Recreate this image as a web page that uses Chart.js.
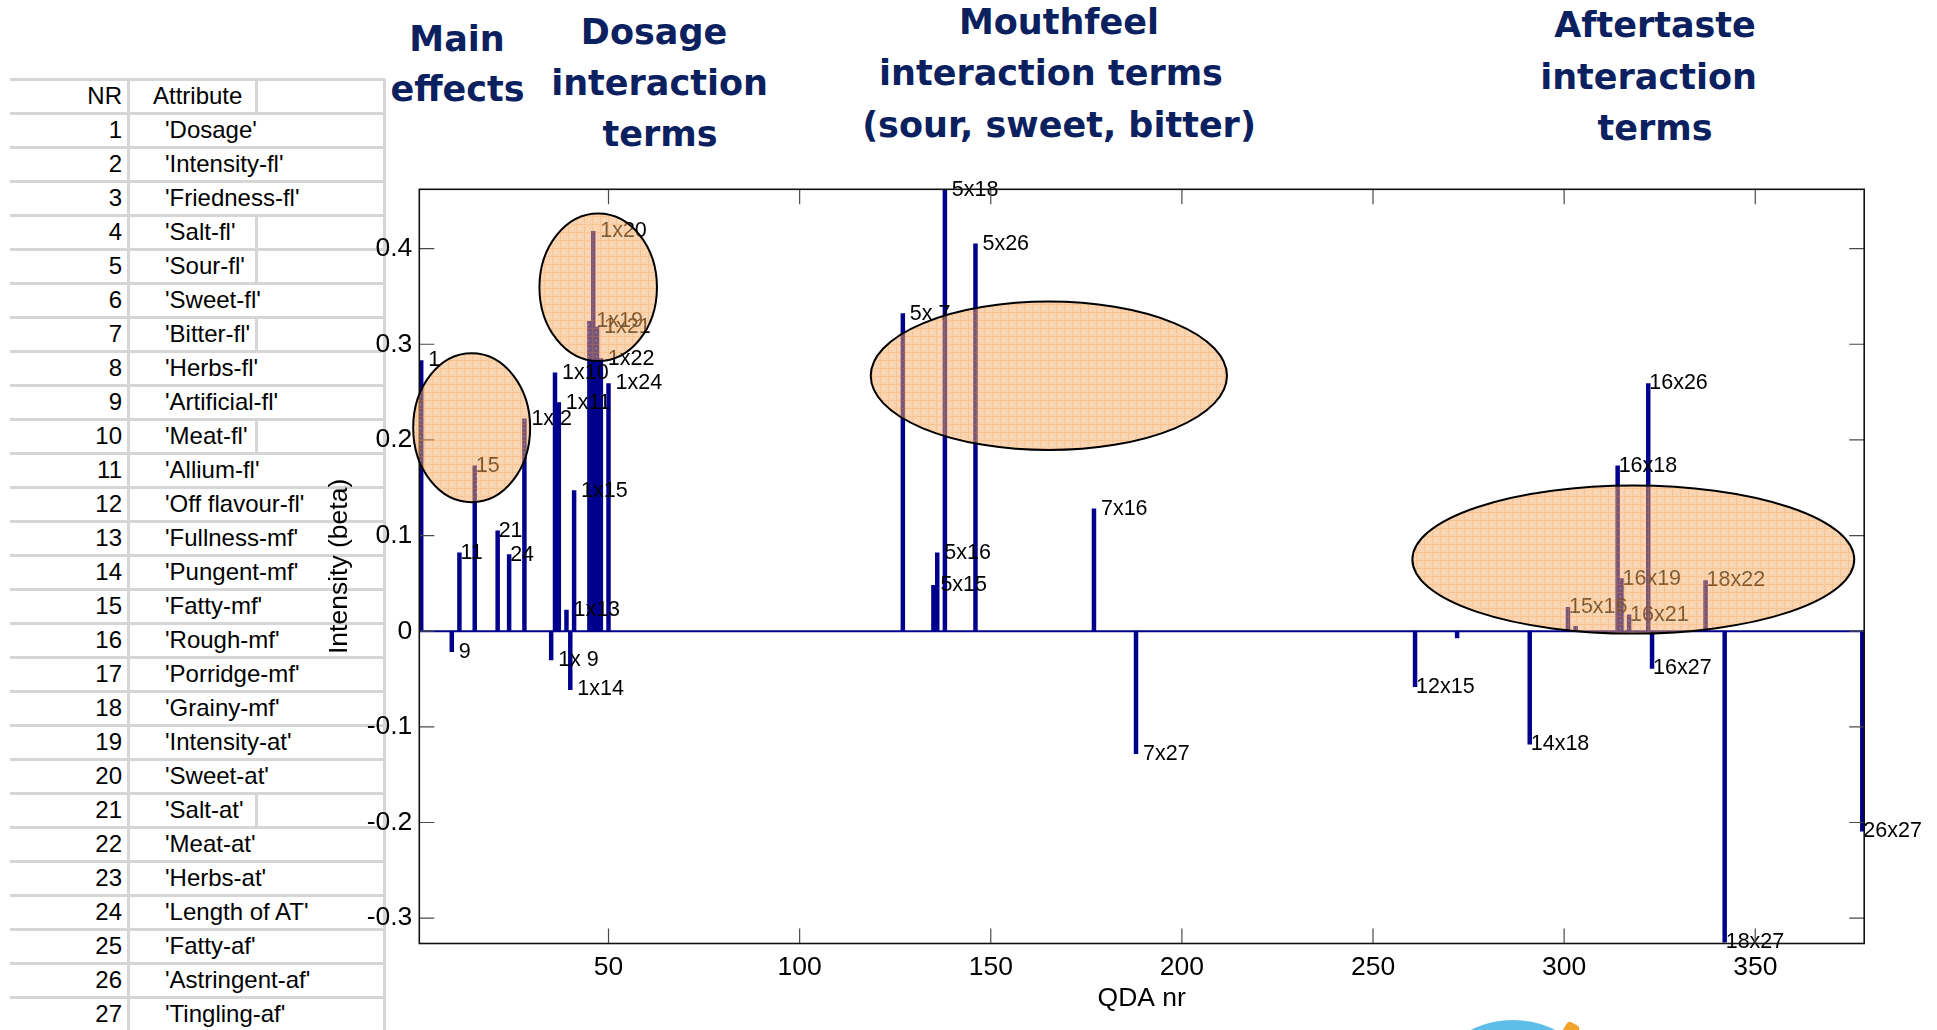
<!DOCTYPE html>
<html>
<head>
<meta charset="utf-8">
<script src="https://cdn.jsdelivr.net/npm/chart.js@4.4.1/dist/chart.umd.min.js"></script>
<style>
  html, body { margin: 0; padding: 0; background: #fff; width: 1937px; height: 1030px; overflow: hidden; }
  #stage { position: relative; width: 1937px; height: 1030px; overflow: hidden; }
  #qda { position: absolute; left: 0; top: 0; }
  .hline { position: absolute; height: 3px; background: #d6d6d6; }
  .vline { position: absolute; width: 3px; background: #d6d6d6; }
  .cell { position: absolute; height: 34px; line-height: 34px; font: 24px "Liberation Sans", Arial, sans-serif; color: #000; white-space: pre; }
  .ttl { position: absolute; font: bold 35px "DejaVu Sans", Verdana, sans-serif; color: #0b205f; white-space: pre; transform: translateX(-50%); line-height: 35px; }
  .logo-blue { position: absolute; left: 1418px; top: 1020px; width: 190px; height: 190px; border-radius: 50%; background: #5dbfe9; }
  .logo-orange { position: absolute; left: 1564px; top: 1023px; width: 14px; height: 14px; border-radius: 4px; background: #f3a32a; transform: rotate(30deg); }
</style>
</head>
<body>
<div id="stage">
  <div id="table"></div>
  <div id="titles"></div>
  <canvas id="qda" width="1937" height="1030"></canvas>
  <div class="logo-blue"></div>
  <div class="logo-orange"></div>
</div>
<script>
// ---- attribute list (main-effect numbering) ----
const attributeNames = [
  "'Dosage'", "'Intensity-fl'", "'Friedness-fl'", "'Salt-fl'", "'Sour-fl'",
  "'Sweet-fl'", "'Bitter-fl'", "'Herbs-fl'", "'Artificial-fl'", "'Meat-fl'",
  "'Allium-fl'", "'Off flavour-fl'", "'Fullness-mf'", "'Pungent-mf'", "'Fatty-mf'",
  "'Rough-mf'", "'Porridge-mf'", "'Grainy-mf'", "'Intensity-at'", "'Sweet-at'",
  "'Salt-at'", "'Meat-at'", "'Herbs-at'", "'Length of AT'", "'Fatty-af'",
  "'Astringent-af'", "'Tingling-af'"
];
// rows whose text stays inside the first attribute cell
const shortCellRows = [4, 5, 7, 10, 21];

// ---- regression coefficients (non-zero terms only) ----
const qdaNr = [1, 9, 11, 15, 21, 24, 28, 35, 36, 37, 39, 40, 41, 45, 46, 47, 48, 50,
               127, 135, 136, 138, 146, 177, 188,
               261, 272, 291, 301, 303, 314, 315, 317, 322, 323, 337, 342, 378];
const beta = [0.283, -0.0215, 0.082, 0.173, 0.105, 0.080, 0.222, -0.030, 0.270, 0.239,
              0.022, -0.061, 0.147, 0.324, 0.418, 0.318, 0.285, 0.259,
              0.332, 0.048, 0.082, 0.461, 0.405, 0.128, -0.128,
              -0.058, -0.007, -0.118, 0.025, 0.005, 0.173, 0.055, 0.017, 0.259, -0.039,
              0.053, -0.325, -0.209];
const termLabels = [' 1', ' 9', '11', '15', '21', '24', ' 1x 2', ' 1x 9', ' 1x10', ' 1x11',
                    ' 1x13', ' 1x14', ' 1x15', ' 1x19', ' 1x20', ' 1x21', ' 1x22', ' 1x24',
                    ' 5x 7', ' 5x15', ' 5x16', ' 5x18', ' 5x26', ' 7x16', ' 7x27',
                    '12x15', '', '14x18', '15x16', '', '16x18', '16x19', '16x21', '16x26', '16x27',
                    '18x22', '18x27', '26x27'];

// ---- axis settings ----
const xTickStep = 50;
const yTickStep = 0.1;
const xRange = [0.5, 378.5];
const yRange = [-0.3265, 0.462];

// ---- group headings ----
const groupTitles = [
  { lines: ['Main', 'effects'], cx: [457, 457.5], base: [51.5, 102] },
  { lines: ['Dosage', 'interaction', 'terms'], cx: [654, 659.5, 660], base: [45, 96, 146.5] },
  { lines: ['Mouthfeel', 'interaction terms', '(sour, sweet, bitter)'], cx: [1059, 1051, 1059], base: [35, 85.5, 137.5] },
  { lines: ['Aftertaste', 'interaction', 'terms'], cx: [1655, 1648.5, 1655], base: [37.5, 90, 141] }
];

// highlighted groups, in axis units (centre x / y, radius x / y)
const highlights = [
  { x: 14.2, y: 0.2127, rx: 15.3, ry: 0.0779 },
  { x: 47.3, y: 0.3596, rx: 15.37, ry: 0.0772 },
  { x: 165.2, y: 0.267, rx: 46.6, ry: 0.0776 },
  { x: 318.1, y: 0.0749, rx: 57.8, ry: 0.0774 }
];

// ---- attribute table ----
(function buildTable() {
  const host = document.getElementById('table');
  const top0 = 79, rowH = 34, textShift = 2.5;
  const add = (cls, css, text) => {
    const d = document.createElement('div');
    d.className = cls;
    Object.assign(d.style, css);
    if (text !== undefined) d.textContent = text;
    host.appendChild(d);
  };
  for (let k = 0; k <= attributeNames.length + 1; k++) {
    add('hline', { left: '10px', width: '375px', top: (top0 + k * rowH - 1.5) + 'px' });
  }
  add('vline', { left: '126.5px', top: top0 + 'px', height: (1030 - top0) + 'px' });
  add('vline', { left: '382.5px', top: top0 + 'px', height: (1030 - top0) + 'px' });
  [0].concat(shortCellRows).forEach(r => {
    add('vline', { left: '254.5px', top: (top0 + r * rowH) + 'px', height: rowH + 'px' });
  });
  add('cell', { left: '10px', width: '112px', textAlign: 'right', top: (top0 + textShift) + 'px' }, 'NR');
  add('cell', { left: '153px', top: (top0 + textShift) + 'px' }, 'Attribute');
  attributeNames.forEach((name, i) => {
    const t = top0 + (i + 1) * rowH + textShift;
    add('cell', { left: '10px', width: '112px', textAlign: 'right', top: t + 'px' }, String(i + 1));
    add('cell', { left: '165px', top: t + 'px' }, name);
  });
})();

// ---- headings ----
(function buildTitles() {
  const host = document.getElementById('titles');
  groupTitles.forEach(g => {
    g.lines.forEach((txt, i) => {
      const d = document.createElement('div');
      d.className = 'ttl';
      d.textContent = txt;
      d.style.left = g.cx[i] + 'px';
      d.style.top = (g.base[i] - 29.6) + 'px';
      host.appendChild(d);
    });
  });
})();

// ---- chart ----
const barColor = '#00008c';

const baselinePlugin = {
  id: 'baseline',
  beforeDatasetsDraw(chart) {
    const { ctx, chartArea } = chart;
    const y0 = chart.scales.y.getPixelForValue(0);
    ctx.save();
    ctx.strokeStyle = barColor;
    ctx.lineWidth = 2;
    ctx.beginPath();
    ctx.moveTo(chartArea.left, y0);
    ctx.lineTo(chartArea.right, y0);
    ctx.stroke();
    ctx.restore();
  }
};

const termLabelPlugin = {
  id: 'termLabels',
  afterDatasetsDraw(chart) {
    const ctx = chart.ctx;
    const meta = chart.getDatasetMeta(0);
    ctx.save();
    ctx.font = '21.5px "Liberation Sans", Arial, sans-serif';
    ctx.fillStyle = '#000';
    ctx.textAlign = 'left';
    ctx.textBaseline = 'middle';
    meta.data.forEach((bar, i) => {
      const t = termLabels[i];
      if (t) ctx.fillText(t, bar.x + 1, bar.y);
    });
    ctx.restore();
  }
};

const framePlugin = {
  id: 'boxFrame',
  afterDatasetsDraw(chart) {
    const { ctx, chartArea } = chart;
    const { left, right, top, bottom } = chartArea;
    const xs = chart.scales.x, ys = chart.scales.y;
    const len = 15;
    ctx.save();
    ctx.strokeStyle = '#4a4a4a';
    ctx.lineWidth = 1.2;
    ctx.beginPath();
    ys.ticks.forEach(t => {
      const y = ys.getPixelForValue(t.value);
      ctx.moveTo(left, y); ctx.lineTo(left + len, y);
      ctx.moveTo(right, y); ctx.lineTo(right - len, y);
    });
    xs.ticks.forEach(t => {
      const x = xs.getPixelForValue(t.value);
      ctx.moveTo(x, bottom); ctx.lineTo(x, bottom - len);
      ctx.moveTo(x, top); ctx.lineTo(x, top + len);
    });
    ctx.stroke();
    ctx.strokeStyle = '#111';
    ctx.lineWidth = 1.6;
    ctx.strokeRect(left, top, right - left, bottom - top);
    ctx.restore();
  }
};

function makeHatch(ctx) {
  const pc = document.createElement('canvas');
  pc.width = 8; pc.height = 8;
  const g = pc.getContext('2d');
  g.fillStyle = 'rgba(245,170,98,0.5)';
  g.fillRect(0, 0, 8, 8);
  g.fillStyle = 'rgba(238,140,50,0.22)';
  g.fillRect(0, 0, 8, 1);
  g.fillRect(0, 1, 1, 7);
  g.fillStyle = 'rgba(255,255,255,0.45)';
  g.fillRect(4, 4, 1, 1);
  return ctx.createPattern(pc, 'repeat');
}

const highlightPlugin = {
  id: 'highlights',
  afterDraw(chart) {
    const ctx = chart.ctx;
    const xs = chart.scales.x, ys = chart.scales.y;
    const fill = makeHatch(ctx);
    ctx.save();
    highlights.forEach(h => {
      const cx = xs.getPixelForValue(h.x);
      const cy = ys.getPixelForValue(h.y);
      const rx = Math.abs(xs.getPixelForValue(h.x + h.rx) - cx);
      const ry = Math.abs(ys.getPixelForValue(h.y + h.ry) - cy);
      ctx.beginPath();
      ctx.ellipse(cx, cy, rx, ry, 0, 0, Math.PI * 2);
      ctx.fillStyle = fill;
      ctx.fill();
      ctx.lineWidth = 2;
      ctx.strokeStyle = '#000';
      ctx.stroke();
    });
    ctx.restore();
  }
};

Chart.defaults.font.family = '"Liberation Sans", Arial, sans-serif';
Chart.defaults.color = '#000';

new Chart(document.getElementById('qda'), {
  type: 'bar',
  data: {
    datasets: [{
      data: qdaNr.map((n, i) => ({ x: n, y: beta[i] })),
      backgroundColor: barColor,
      borderWidth: 0,
      categoryPercentage: 1,
      barPercentage: 1
    }]
  },
  options: {
    responsive: false,
    animation: false,
    devicePixelRatio: 1,
    layout: { padding: { left: 320, top: 189.3, right: 72.8, bottom: 11 } },
    plugins: { legend: { display: false }, tooltip: { enabled: false } },
    scales: {
      x: {
        type: 'linear',
        min: xRange[0], max: xRange[1],
        offset: false,
        grid: { display: false, drawTicks: false },
        border: { display: false },
        ticks: { stepSize: xTickStep, includeBounds: false, padding: 8, color: '#000', font: { size: 26.5 }, maxRotation: 0 },
        title: { display: true, text: 'QDA nr', color: '#000', font: { size: 26.5 }, padding: { top: 4, bottom: 4 } },
        afterFit: s => { s.height = 75.5; }
      },
      y: {
        min: yRange[0], max: yRange[1],
        grid: { display: false, drawTicks: false },
        border: { display: false },
        ticks: {
          stepSize: yTickStep, includeBounds: false, padding: 7, color: '#000', font: { size: 26.5 },
          callback: v => String(Number(v.toFixed(1)))
        },
        title: { display: true, text: 'Intensity (beta)', color: '#000', font: { size: 26.5 }, padding: { top: 4, bottom: 4 } },
        afterFit: s => { s.width = 99.3; }
      }
    }
  },
  plugins: [baselinePlugin, termLabelPlugin, framePlugin, highlightPlugin]
});
</script>
</body>
</html>
